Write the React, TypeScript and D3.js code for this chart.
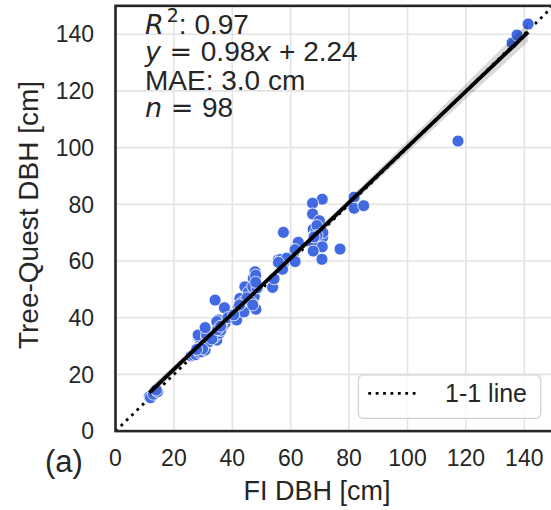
import React from "react";
import * as d3 from "d3";

const fiDbh = [
  11.6, 12.0, 13.0, 14.4, 14.0,
  25.9, 26.6, 27.5, 28.7, 28.9, 29.5, 30.7, 29.2, 28.4, 28.3, 31.2, 31.2, 30.7, 30.5, 32.0,
  34.7, 34.4, 33.8, 35.5, 35.2, 37.5, 34.7, 36.5, 34.1, 37.3, 38.5, 36.0,
  41.5, 42.0, 42.6, 43.2, 44.3, 45.3, 46.6, 47.8, 47.8, 47.2, 48.1, 44.0, 46.0, 47.5, 48.0, 45.5, 40.5, 43.5, 47.0, 48.5,
  53.8, 54.3, 55.8, 57.5, 57.2, 57.5, 56.5, 58.6,
  61.5, 62.6, 61.5,
  70.8, 67.5, 67.5, 69.8, 67.7, 69.8, 70.9, 67.7, 70.8, 67.7, 70.7, 68.5, 69.0, 71.0, 76.9,
  81.7, 81.7, 85.0,
  117.3, 135.8, 137.5, 141.3,
  29.8, 27.8, 33.0, 35.0, 36.0, 45.0, 46.5, 48.0, 47.0, 69.0, 68.0, 55.8, 42.5,
];
const tqDbh = [
  12.1, 11.8, 13.0, 13.9, 14.5,
  26.5, 26.8, 27.0, 27.7, 29.8, 28.0, 28.6, 31.2, 33.3, 33.9, 33.3, 33.9, 36.5, 30.5, 31.5,
  32.1, 34.2, 33.0, 34.5, 39.2, 38.0, 38.6, 36.5, 46.2, 43.5, 40.0, 35.5,
  39.2, 43.9, 46.8, 43.9, 50.9, 44.7, 48.0, 49.8, 56.2, 53.9, 43.0, 42.0, 46.0, 47.5, 55.0, 49.0, 41.0, 45.5, 51.0, 50.5,
  50.7, 53.7, 60.4, 59.2, 57.1, 70.1, 60.5, 61.0,
  59.8, 66.6, 64.0,
  81.8, 80.4, 76.6, 74.2, 71.2, 71.5, 68.4, 66.5, 65.0, 63.5, 60.6, 70.0, 72.5, 70.0, 64.2,
  82.5, 78.6, 79.5,
  102.3, 136.9, 139.7, 143.6,
  29.0, 28.8, 32.5, 35.8, 37.0, 47.0, 45.5, 52.5, 44.5, 69.0, 68.5, 59.5, 44.5,
];
const xTicks = [0, 20, 40, 60, 80, 100, 120, 140];
const yTicks = [0, 20, 40, 60, 80, 100, 120, 140];
const slope = 0.98;
const intercept = 2.24;
const statR2 = "0.97";
const statMae = "3.0 cm";
const statN = "98";
const xLabel = "FI DBH [cm]";
const yLabel = "Tree-Quest DBH [cm]";
const panelLabel = "(a)";
const legendLabel = "1-1 line";

const FONT = "'Liberation Sans', Arial, sans-serif";
const MATH = "'DejaVu Sans', sans-serif";
const TXT = "#262626";

export default function App() {
  const x = d3.scaleLinear().domain([0, 150]).range([115.5, 553.5]);
  const y = d3.scaleLinear().domain([0, 150]).range([431.1, 5.85]);

  const n = fiDbh.length;
  const xbar = d3.mean(fiDbh) as number;
  const sxx = d3.sum(fiDbh, (v) => (v - xbar) ** 2);
  const sse = d3.sum(fiDbh, (v, i) => (tqDbh[i] - (slope * v + intercept)) ** 2);
  const s = Math.sqrt(sse / (n - 2));
  const xmin = d3.min(fiDbh) as number;
  const xmax = d3.max(fiDbh) as number;
  const grid = d3.range(0, 101).map((k) => xmin + ((xmax - xmin) * k) / 100);
  const half = (v: number) => 1.985 * s * Math.sqrt(1 / n + (v - xbar) ** 2 / sxx);
  const band = d3
    .area<number>()
    .x((v) => x(v))
    .y0((v) => y(slope * v + intercept - half(v)))
    .y1((v) => y(slope * v + intercept + half(v)));
  const line = d3
    .line<number>()
    .x((v) => x(v))
    .y((v) => y(slope * v + intercept));

  const [x0, x1] = x.range();
  const [y0, y1] = y.range();

  return (
    <svg
      width={551}
      height={510}
      style={{ position: "absolute", left: 0, top: 0, background: "#fff" }}
      fontFamily={FONT}
    >
      <defs>
        <clipPath id="plot">
          <rect x={x0} y={y1} width={x1 - x0} height={y0 - y1} />
        </clipPath>
      </defs>
      {xTicks.map((t) => (
        <line key={"gx" + t} x1={x(t)} x2={x(t)} y1={y0} y2={y1} stroke="#e3e3e3" strokeWidth={1.6} />
      ))}
      {yTicks.map((t) => (
        <line key={"gy" + t} x1={x0} x2={x1} y1={y(t)} y2={y(t)} stroke="#e3e3e3" strokeWidth={1.6} />
      ))}
      <g clipPath="url(#plot)">
        <line
          x1={x(0)}
          y1={y(0)}
          x2={x(150)}
          y2={y(150)}
          stroke="#000"
          strokeWidth={2.8}
          strokeDasharray="2.8,4.6"
        />
        {fiDbh.map((v, i) => (
          <circle key={i} cx={x(v)} cy={y(tqDbh[i])} r={6} fill="#4169e1" stroke="#fff" strokeWidth={0.8} />
        ))}
        <path d={band(grid) as string} fill="#000" fillOpacity={0.15} />
        <path d={line([xmin, xmax]) as string} stroke="#000" strokeWidth={3.8} fill="none" />
      </g>
      <rect x={x0} y={y1} width={x1 - x0} height={y0 - y1} fill="none" stroke="#262626" strokeWidth={2.6} />
      {xTicks.map((t) => (
        <text key={"tx" + t} x={x(t)} y={466} textAnchor="middle" fontSize={23} fill={TXT}>
          {t}
        </text>
      ))}
      {yTicks.map((t) => (
        <text key={"ty" + t} x={94} y={y(t) + 8.2} textAnchor="end" fontSize={23} fill={TXT}>
          {t}
        </text>
      ))}
      <text x={317} y={500} textAnchor="middle" fontSize={27} fill={TXT}>
        {xLabel}
      </text>
      <text transform="translate(37.5,215) rotate(-90)" textAnchor="middle" fontSize={28} fill={TXT}>
        {yLabel}
      </text>
      <text x={45} y={472} fontSize={31} fill={TXT}>
        {panelLabel}
      </text>
      <g fontSize={28} fill={TXT}>
        <text x={145} y={34}>
          <tspan fontFamily={MATH} fontStyle="italic" fontSize={27}>R</tspan>
          <tspan fontFamily={MATH} fontSize={19} dx={3} dy={-12}>2</tspan>
          <tspan dy={12}>{": " + statR2}</tspan>
        </text>
        <text x={145} y={61}>
          <tspan fontFamily={MATH} fontStyle="italic" fontSize={27}>y</tspan>
          <tspan fontFamily={MATH} fontSize={27}>{" = "}</tspan>
          <tspan>{slope.toFixed(2)}</tspan>
          <tspan fontFamily={MATH} fontStyle="italic" fontSize={27}>x</tspan>
          <tspan>{" + " + intercept.toFixed(2)}</tspan>
        </text>
        <text x={145} y={90}>
          {"MAE: " + statMae}
        </text>
        <text x={145} y={117}>
          <tspan fontFamily={MATH} fontStyle="italic" fontSize={27}>n</tspan>
          <tspan fontFamily={MATH} fontSize={27}>{" = "}</tspan>
          <tspan>{statN}</tspan>
        </text>
      </g>
      <rect x={358.3} y={375} width={182.4} height={43.3} rx={5} fill="#fff" fillOpacity={0.85} stroke="#d0d0d0" strokeWidth={1.2} />
      <line x1={368.3} x2={420} y1={393.3} y2={393.3} stroke="#000" strokeWidth={2.8} strokeDasharray="2.8,4.6" />
      <text x={445} y={402} fontSize={25} fill={TXT}>
        {legendLabel}
      </text>
    </svg>
  );
}
